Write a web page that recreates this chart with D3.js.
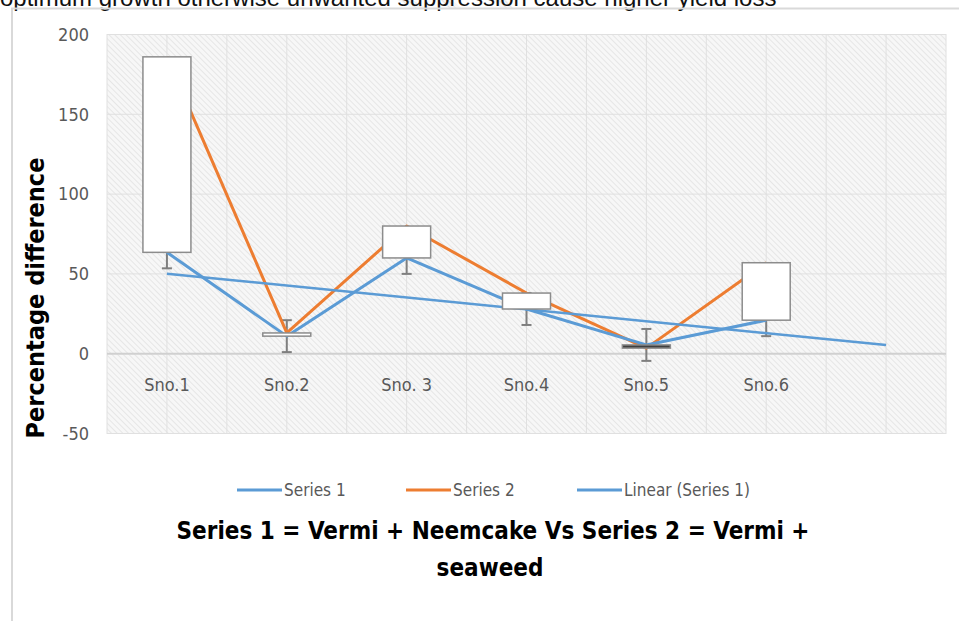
<!DOCTYPE html>
<html>
<head>
<meta charset="utf-8">
<script src="https://cdn.jsdelivr.net/npm/d3@7"></script>
<style>
  html, body { margin: 0; padding: 0; background: #fff; }
  svg { display: block; }
  text { font-family: "Liberation Sans Narrow", "DejaVu Sans Condensed", Arial, sans-serif; }
</style>
</head>
<body>
<svg id="chart"></svg>
<script>
const width = 959;
const height = 621;

// chart data
const categories = ["Sno.1", "Sno.2", "Sno. 3", "Sno.4", "Sno.5", "Sno.6", ""];
const series1 = [63.5, 11, 60, 28, 5.5, 21];
const series2 = [186, 13, 80, 38, 3.5, 57];
const errorSize = 10;
const yTicks = [-50, 0, 50, 100, 150, 200];
const legendNames = ["Series 1", "Series 2", "Linear (Series 1)"];

const blue = "#5b9bd5";
const orange = "#ed7d31";

const plot = { left: 107, right: 946, top: 34, bottom: 434 };

const svg = d3.select("#chart").attr("width", width).attr("height", height);

const defs = svg.append("defs");
const hatch = defs.append("pattern")
    .attr("id", "hatch")
    .attr("patternUnits", "userSpaceOnUse")
    .attr("width", 4)
    .attr("height", 4)
    .attr("patternTransform", "rotate(-45)");
hatch.append("rect").attr("width", 4).attr("height", 4).attr("fill", "#f7f7f7");
hatch.append("line")
    .attr("x1", 0).attr("y1", 0).attr("x2", 0).attr("y2", 4)
    .attr("stroke", "#e2e2e2").attr("stroke-width", 1.6);

// the cut off sentence above the chart box
svg.append("path")
    .attr("d", "M398,0 L412,0 L428,9 L414,9 Z M440,0 L452,0 L462,9 L450,9 Z M494,0 L506,0 L514,9 L502,9 Z")
    .attr("fill", "url(#hatch)");
svg.append("text")
    .attr("x", 0)
    .attr("y", 6)
    .style("font-family", "'Liberation Sans', Arial, sans-serif")
    .attr("font-size", 24)
    .attr("fill", "#111")
    .text("optimum growth otherwise unwanted suppression cause higher yield loss");

// chart frame
svg.append("path")
    .attr("d", "M12,621 L12,8.5 L959,8.5")
    .attr("fill", "none")
    .attr("stroke", "#d9d9d9")
    .attr("stroke-width", 2);

const x = d3.scaleBand()
    .domain(categories.map((d, i) => i))
    .range([plot.left, plot.right])
    .padding(0);
const cx = (i) => x(i) + x.bandwidth() / 2;

const y = d3.scaleLinear()
    .domain([-50, 200])
    .range([plot.bottom - 0.5, plot.top + 0.5]);

svg.append("rect")
    .attr("x", plot.left)
    .attr("y", plot.top)
    .attr("width", plot.right - plot.left)
    .attr("height", plot.bottom - plot.top)
    .attr("fill", "url(#hatch)");

// gridlines
const grid = svg.append("g");
const halfSteps = d3.range(categories.length * 2 + 1).map((k) => plot.left + k * x.bandwidth() / 2);
grid.selectAll(".vgrid")
    .data(halfSteps)
    .enter()
    .append("line")
    .attr("x1", (d) => d).attr("x2", (d) => d)
    .attr("y1", plot.top).attr("y2", plot.bottom)
    .attr("stroke", "#e0e0e0")
    .attr("stroke-width", 1);
grid.selectAll(".hgrid")
    .data(yTicks)
    .enter()
    .append("line")
    .attr("x1", plot.left).attr("x2", plot.right)
    .attr("y1", (d) => y(d)).attr("y2", (d) => y(d))
    .attr("stroke", (d) => d === 0 ? "#d0d0d0" : "#e0e0e0")
    .attr("stroke-width", (d) => d === 0 ? 2 : 1);

// y axis labels
const yAxis = svg.append("g")
    .attr("transform", `translate(${plot.left},0)`)
    .call(d3.axisLeft(y).tickValues(yTicks).tickFormat((d) => String(d)).tickSize(0).tickPadding(18));
yAxis.select(".domain").remove();
yAxis.selectAll("text")
    .attr("font-size", 18)
    .attr("fill", "#595959")
    .style("font-family", "'Liberation Sans Narrow', 'DejaVu Sans Condensed', sans-serif");

// category labels (axis crosses at zero)
const xAxis = svg.append("g")
    .attr("transform", `translate(0,${y(0)})`)
    .call(d3.axisBottom(x).tickFormat((i) => categories[i]).tickSize(0).tickPadding(25));
xAxis.select(".domain").remove();
xAxis.selectAll("text")
    .attr("font-size", 18)
    .attr("fill", "#595959")
    .style("font-family", "'Liberation Sans Narrow', 'DejaVu Sans Condensed', sans-serif");

// error bars on series 1
const err = svg.append("g").attr("stroke", "#7f7f7f").attr("stroke-width", 2);
series1.forEach((v, i) => {
    const xi = cx(i);
    err.append("line").attr("x1", xi).attr("x2", xi)
        .attr("y1", y(v - errorSize)).attr("y2", y(v + errorSize));
    err.append("line").attr("x1", xi - 5).attr("x2", xi + 5)
        .attr("y1", y(v - errorSize)).attr("y2", y(v - errorSize));
    err.append("line").attr("x1", xi - 5).attr("x2", xi + 5)
        .attr("y1", y(v + errorSize)).attr("y2", y(v + errorSize));
});

const line = d3.line().x((d, i) => cx(i)).y((d) => y(d));

svg.append("path")
    .datum(series2)
    .attr("d", line)
    .attr("fill", "none")
    .attr("stroke", orange)
    .attr("stroke-width", 3)
    .attr("stroke-linejoin", "round");

svg.append("path")
    .datum(series1)
    .attr("d", line)
    .attr("fill", "none")
    .attr("stroke", blue)
    .attr("stroke-width", 3)
    .attr("stroke-linejoin", "round");

// linear trend of series 1, one period forward
const xs = series1.map((d, i) => i + 1);
const mx = d3.mean(xs);
const my = d3.mean(series1);
const slope = d3.sum(xs, (xv, i) => (xv - mx) * (series1[i] - my)) / d3.sum(xs, (xv) => (xv - mx) * (xv - mx));
const intercept = my - slope * mx;
const trendEnd = categories.length - 1;
svg.append("line")
    .attr("x1", cx(0)).attr("y1", y(intercept + slope * 1))
    .attr("x2", cx(trendEnd)).attr("y2", y(intercept + slope * (trendEnd + 1)))
    .attr("stroke", blue)
    .attr("stroke-width", 2.5);

// up / down bars
const boxW = 48;
svg.selectAll(".updown")
    .data(series1.map((v, i) => ({ i, a: v, b: series2[i] })))
    .enter()
    .append("rect")
    .attr("x", (d) => cx(d.i) - boxW / 2)
    .attr("y", (d) => y(Math.max(d.a, d.b)))
    .attr("width", boxW)
    .attr("height", (d) => Math.max(1, y(Math.min(d.a, d.b)) - y(Math.max(d.a, d.b))))
    .attr("fill", (d) => d.b >= d.a ? "#fff" : "#404040")
    .attr("stroke", "#8c8c8c")
    .attr("stroke-width", 1.5);

// y axis title
svg.append("text")
    .attr("transform", "translate(44,298) rotate(-90)")
    .attr("text-anchor", "middle")
    .attr("font-size", 25)
    .attr("font-weight", "bold")
    .attr("fill", "#000")
    .text("Percentage difference");

// legend
const legendX = [237, 406, 577];
const legendColors = [blue, orange, blue];
const legend = svg.append("g");
legendNames.forEach((name, k) => {
    legend.append("line")
        .attr("x1", legendX[k]).attr("x2", legendX[k] + 45)
        .attr("y1", 490).attr("y2", 490)
        .attr("stroke", legendColors[k])
        .attr("stroke-width", 3);
    legend.append("text")
        .attr("x", legendX[k] + 47)
        .attr("y", 490)
        .attr("dy", "0.35em")
        .attr("font-size", 17)
        .attr("fill", "#595959")
        .text(name);
});

// chart title
const title = svg.append("text")
    .attr("text-anchor", "middle")
    .attr("font-size", 24)
    .attr("font-weight", "bold")
    .attr("fill", "#000");
title.append("tspan").attr("x", 493).attr("y", 539).text("Series 1 = Vermi + Neemcake Vs Series 2 = Vermi +");
title.append("tspan").attr("x", 490).attr("y", 576).text("seaweed");
</script>
</body>
</html>
